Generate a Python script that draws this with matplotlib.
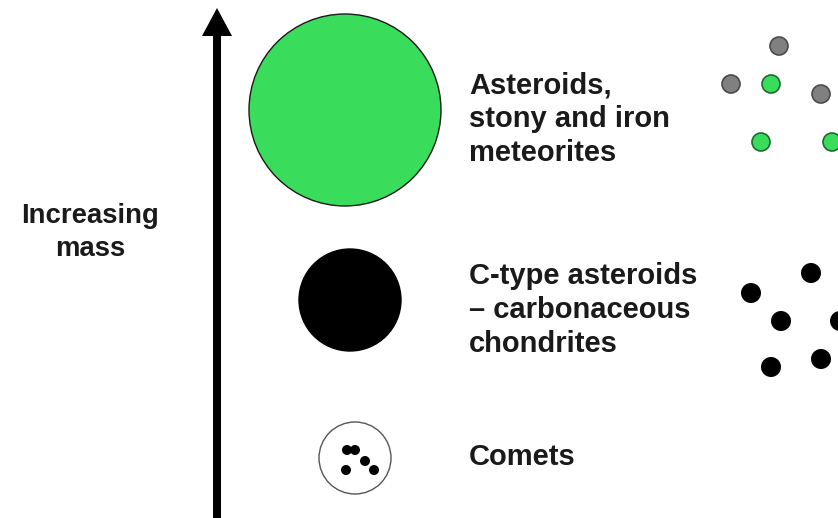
import matplotlib
matplotlib.use("Agg")
import matplotlib.pyplot as plt
from matplotlib.patches import Circle, FancyArrow

# ---- data ----
labels = ["Asteroids,\nstony and iron\nmeteorites",
          "C-type asteroids\n– carbonaceous\nchondrites",
          "Comets"]
axis_label = "Increasing\nmass"

# big symbols (center x, center y, radius) in pixel-like coords
sym_x = [345, 350, 355]
sym_y = [110, 300, 458]
sym_r = [96, 51, 36]
sym_face = ["#3ADC5C", "#000000", "#FFFFFF"]
sym_edge = ["#1a1a1a", "#000000", "#555555"]

# comet nucleus fragments
comet_x = [347, 355, 365, 346, 374]
comet_y = [450, 450, 461, 470, 470]

# scattered dots on the right
gray_x = [779, 731, 821]
gray_y = [46, 84, 94]
green_x = [771, 761, 832]
green_y = [84, 142, 142]
black_x = [811, 751, 781, 840, 771, 821]
black_y = [273, 293, 321, 321, 367, 359]

W, H = 838, 518
fig = plt.figure(figsize=(W / 100, H / 100), dpi=100)
ax = fig.add_axes([0, 0, 1, 1])
ax.set_xlim(0, W)
ax.set_ylim(H, 0)
ax.set_aspect("equal")
ax.axis("off")

# arrow
ax.add_patch(FancyArrow(217, 520, 0, -512, width=8, head_width=30,
                        head_length=28, length_includes_head=True,
                        color="black", lw=0))

for x, y, r, fc, ec in zip(sym_x, sym_y, sym_r, sym_face, sym_edge):
    ax.add_patch(Circle((x, y), r, facecolor=fc, edgecolor=ec, lw=1.0))

for x, y in zip(comet_x, comet_y):
    ax.add_patch(Circle((x, y), 5, facecolor="black", edgecolor="none"))

for x, y in zip(gray_x, gray_y):
    ax.add_patch(Circle((x, y), 9, facecolor="#808080", edgecolor="#4a4a4a", lw=1.2))
for x, y in zip(green_x, green_y):
    ax.add_patch(Circle((x, y), 9, facecolor="#3ADC5C", edgecolor="#1f6b30", lw=1.2))
for x, y in zip(black_x, black_y):
    ax.add_patch(Circle((x, y), 10, facecolor="black", edgecolor="none"))

font = dict(family="Liberation Sans", weight="bold", size=21, color="#1a1a1a")
line_gap = 34

baselines = [93, 284, 465]
for lab, b in zip(labels, baselines):
    for i, line in enumerate(lab.split("\n")):
        ax.text(469, b + i * line_gap, line, ha="left", va="baseline", **font)

font2 = dict(font, size=19.8)
for i, line in enumerate(axis_label.split("\n")):
    ax.text(90, 223 + i * 33, line, ha="center", va="baseline", **font2)

fig.savefig("out.png", dpi=100)
